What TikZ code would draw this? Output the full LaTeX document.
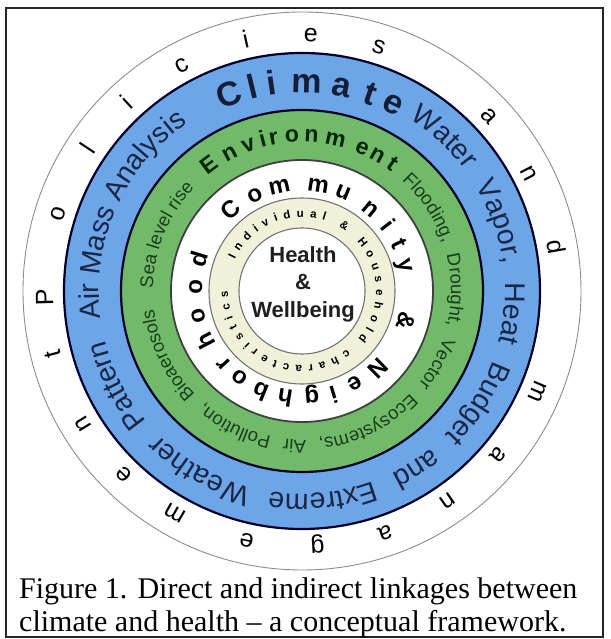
\documentclass[tikz,border=0pt]{standalone}
\usepackage{fontspec}
\setmainfont{Liberation Serif}
\setsansfont{Liberation Sans}
\usetikzlibrary{decorations.text}
\definecolor{ringblue}{RGB}{108,166,232}
\definecolor{ringgreen}{RGB}{112,186,106}
\definecolor{ringbeige}{RGB}{241,241,218}
\definecolor{navytext}{RGB}{26,38,68}
\definecolor{greentext}{RGB}{24,62,26}
\tikzset{
  outerlet/.style={font=\sffamily\fontsize{25}{25}\selectfont, anchor=base, inner sep=0pt},
  climlet/.style={font=\sffamily\bfseries\fontsize{34}{34}\selectfont, text=navytext!80!black, anchor=base, inner sep=0pt},
  envlet/.style={font=\sffamily\bfseries\fontsize{23}{23}\selectfont, text=black!85!green, anchor=base, inner sep=0pt},
  comlet/.style={font=\sffamily\bfseries\fontsize{24}{24}\selectfont, text=black, anchor=base, inner sep=0pt},
  ringedge/.style={line width=2.2pt, draw=black!85!blue},
  thinedge/.style={line width=1.1pt, draw=black!55},
}
\begin{document}
\begin{tikzpicture}[x=1pt,y=1pt]
\useasboundingbox (-302,-348) rectangle (308,291);
% frame
\draw[line width=1.8pt, black!85] (-296,283) rectangle (301,-346);
% rings
\fill[ringblue] (0,0) circle (238);
\fill[ringgreen] (0,0) circle (181);
\fill[white] (0,0) circle (131);
\fill[ringbeige] (0,0) circle (93);
\fill[white] (0,0) circle (63);
\draw[line width=0.9pt, black!45] (0,0) circle (279);
\draw[ringedge] (0,0) circle (238);
\draw[ringedge] (0,0) circle (181);
\draw[line width=1.8pt, black!75] (0,0) circle (131);
\draw[thinedge] (0,0) circle (93);
\draw[thinedge] (0,0) circle (63);
% outer ring letters: Policies and management
\foreach \c/\a [count=\k] in {P/181.5, o/162.5, l/146.3, i/132.8, c/118.1, i/102.6, e/88, s/72.5, a/43.1, n/27.4, d/9.9, m/-23.1, a/-39.8, n/-55.2, a/-71, g/-86.5, e/-102.5, m/-119.7, e/-134.3, n/-148.7, t/-165.7}
  \node[outerlet, rotate=\a-90] (pm\k) at (\a:249) {\c};
% Climate
\foreach \c/\a [count=\k] in {C/110.3, l/103.6, i/98.3, m/88.6, a/78.9, t/70.9, e/64}
  \node[climlet, rotate=\a-90] (cl\k) at (\a:198) {\c};
% blue ring phrases
\path[decorate, decoration={text along path, text align={fit to path stretching spaces},
  text={|\sffamily\fontsize{28.5}{28.5}\selectfont\color{navytext}|Water Vapor, Heat Budget and Extreme Weather Pattern}}]
  (58:203) arc[start angle=58, end angle=-166, radius=203];
\path[decorate, decoration={text along path, text align=center,
  text={|\sffamily\fontsize{28.5}{28.5}\selectfont\color{navytext}|Air Mass Analysis}}]
  (196:203) arc[start angle=196, end angle=116, radius=203];
% Environment
\foreach \c/\a [count=\k] in {E/126.5, n/117.8, v/110.2, i/104.6, r/100.5, o/93.7, n/86.5, m/77.6, e/67.2, n/60.8, t/54.5}
  \node[envlet, rotate=\a-90] (en\k) at (\a:149) {\c};
% green ring phrases
\path[decorate, decoration={text along path, text align={fit to path stretching spaces},
  text={|\sffamily\fontsize{18.5}{18.5}\selectfont\color{greentext}|Flooding, Drought, Vector Ecosystems, Air Pollution, Bioaerosols}}]
  (48:149) arc[start angle=48, end angle=-173, radius=149];
\path[decorate, decoration={text along path, text align=center,
  text={|\sffamily\fontsize{18.5}{18.5}\selectfont\color{greentext}|Sea level rise}}]
  (180:149) arc[start angle=180, end angle=135, radius=149];
% Community & Neighborhood
\foreach \c/\a [count=\k] in {C/131.5, o/116.3, m/102.3, m/81.3, u/67.3, n/49.9, i/37.6, t/25.8, y/13.8, \&/-16, N/-45.4, e/-60, i/-73, g/-84.7, h/-99, b/-112.6, o/-125.7, r/-137.2, h/-152.3, o/-166.3, o/-182.1, d/-196.9}
  \node[comlet, rotate=\a-90] (cn\k) at (\a:100) {\c};
% Individual & Household characteristics
\path[decorate, decoration={text along path, text align={fit to path},
  text={|\sffamily\bfseries\fontsize{11.5}{11.5}\selectfont|Individual {\&} Household characteristics}}]
  (155:74) arc[start angle=155, end angle=-180, radius=74];
% centre
\node[align=center, font=\sffamily\bfseries\fontsize{22}{27.5}\selectfont, text=black!88] (hw) at (1,7) {Health\\\&\\Wellbeing};
% caption
\node[anchor=base west, inner sep=0pt, font=\fontsize{30}{30}\selectfont] (cap1) at (-283,-307) {Figure 1. Direct and indirect linkages between};
\node[anchor=base west, inner sep=0pt, font=\fontsize{30}{30}\selectfont] (cap2) at (-283,-340) {climate and health -- a conceptual framework.};
\end{tikzpicture}
\end{document}
